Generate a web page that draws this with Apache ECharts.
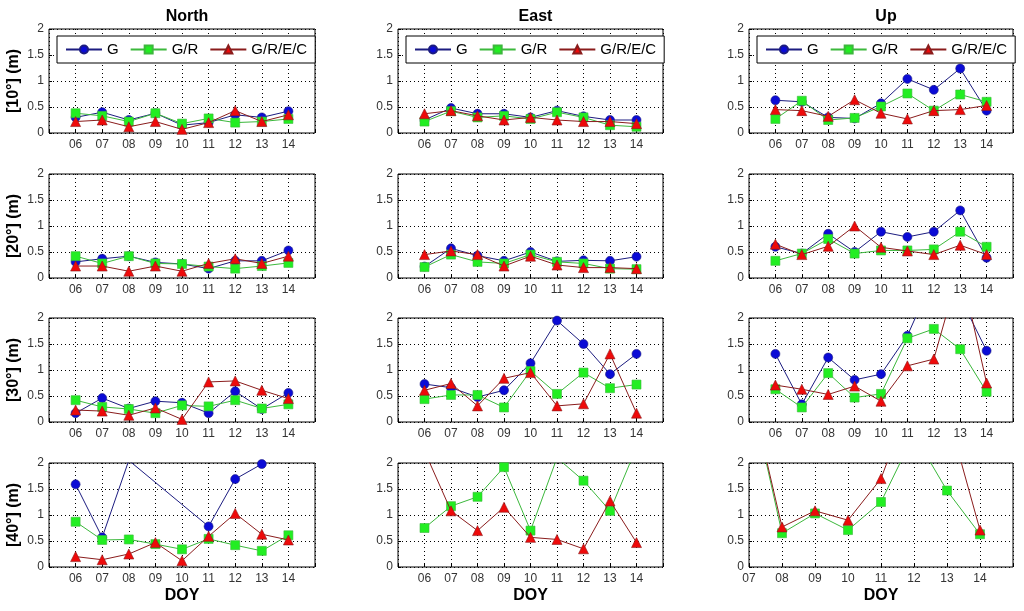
<!DOCTYPE html>
<html>
<head>
<meta charset="utf-8">
<script src="https://cdn.jsdelivr.net/npm/echarts@6/dist/echarts.min.js"></script>
<style>
html,body{margin:0;padding:0;background:#fff;}
#chart{width:1024px;height:611px;}
</style>
</head>
<body>
<div id="chart"></div>
<script>
// ---- data ----
const doy = [6, 7, 8, 9, 10, 11, 12, 13, 14];
const columnTitles = ['North', 'East', 'Up'];
const rowLabels = ['[10°] (m)', '[20°] (m)', '[30°] (m)', '[40°] (m)'];
const seriesNames = ['G', 'G/R', 'G/R/E/C'];
const yTicks = [0, 0.5, 1, 1.5, 2];

// 10°
const N10_G    = [0.30, 0.40, 0.25, 0.38, 0.15, 0.20, 0.35, 0.30, 0.42];
const N10_GR   = [0.38, 0.33, 0.22, 0.38, 0.18, 0.28, 0.20, 0.22, 0.27];
const N10_GREC = [0.22, 0.25, 0.12, 0.22, 0.07, 0.20, 0.43, 0.22, 0.35];
const E10_G    = [0.25, 0.48, 0.37, 0.37, 0.30, 0.43, 0.32, 0.25, 0.25];
const E10_GR   = [0.22, 0.42, 0.30, 0.33, 0.27, 0.40, 0.30, 0.15, 0.12];
const E10_GREC = [0.37, 0.43, 0.33, 0.25, 0.30, 0.25, 0.22, 0.22, 0.18];
const U10_G    = [0.63, 0.60, 0.30, 0.28, 0.57, 1.04, 0.83, 1.24, 0.43];
const U10_GR   = [0.27, 0.62, 0.25, 0.29, 0.51, 0.76, 0.43, 0.74, 0.60];
const U10_GREC = [0.45, 0.43, 0.32, 0.64, 0.38, 0.27, 0.43, 0.45, 0.53];
// 20°
const N20_G    = [0.31, 0.37, 0.42, 0.30, 0.27, 0.18, 0.33, 0.33, 0.53];
const N20_GR   = [0.42, 0.28, 0.42, 0.28, 0.27, 0.22, 0.18, 0.23, 0.29];
const N20_GREC = [0.23, 0.23, 0.13, 0.23, 0.13, 0.28, 0.37, 0.28, 0.42];
const E20_G    = [0.22, 0.57, 0.43, 0.33, 0.50, 0.32, 0.34, 0.33, 0.41];
const E20_GR   = [0.21, 0.45, 0.31, 0.28, 0.45, 0.31, 0.28, 0.18, 0.17];
const E20_GREC = [0.45, 0.52, 0.45, 0.23, 0.42, 0.25, 0.20, 0.20, 0.18];
const U20_G    = [0.60, 0.47, 0.85, 0.50, 0.89, 0.79, 0.89, 1.30, 0.39];
const U20_GR   = [0.33, 0.47, 0.75, 0.47, 0.53, 0.53, 0.55, 0.89, 0.60];
const U20_GREC = [0.65, 0.45, 0.61, 1.00, 0.59, 0.52, 0.45, 0.63, 0.45];
// 30°
const N30_G    = [0.17, 0.46, 0.26, 0.40, 0.37, 0.17, 0.59, 0.25, 0.56];
const N30_GR   = [0.42, 0.29, 0.25, 0.17, 0.32, 0.30, 0.42, 0.26, 0.34];
const N30_GREC = [0.23, 0.21, 0.13, 0.27, 0.05, 0.77, 0.79, 0.61, 0.45];
const E30_G    = [0.73, 0.66, 0.48, 0.61, 1.13, 1.95, 1.50, 0.92, 1.31];
const E30_GR   = [0.44, 0.52, 0.52, 0.28, 0.98, 0.54, 0.95, 0.65, 0.72];
const E30_GREC = [0.61, 0.74, 0.31, 0.84, 0.95, 0.31, 0.35, 1.31, 0.17];
const U30_G    = [1.31, 0.34, 1.24, 0.81, 0.92, 1.66, 2.80, 2.40, 1.37];
const U30_GR   = [0.63, 0.28, 0.94, 0.47, 0.54, 1.61, 1.79, 1.40, 0.58];
const U30_GREC = [0.71, 0.63, 0.53, 0.69, 0.40, 1.08, 1.21, 3.00, 0.75];
// 40°
const N40_G    = [1.59, 0.57, 2.05, null, null, 0.78, 1.69, 1.98, null];
const N40_GR   = [0.87, 0.52, 0.53, 0.44, 0.34, 0.54, 0.42, 0.31, 0.61];
const N40_GREC = [0.20, 0.14, 0.25, 0.47, 0.12, 0.59, 1.03, 0.63, 0.52];
const E40_G    = [null, null, null, null, null, null, null, null, null];
const E40_GR   = [0.75, 1.17, 1.35, 1.92, 0.70, 2.10, 1.66, 1.08, 2.30];
const E40_GREC = [2.23, 1.08, 0.70, 1.15, 0.57, 0.53, 0.35, 1.27, 0.47];
const U40_G    = [null, null, null, null, null, null, null, null, null];
const U40_GR   = [null, 3.50, 0.65, 1.03, 0.71, 1.25, 2.55, 1.47, 0.63];
const U40_GREC = [null, 3.50, 0.77, 1.08, 0.90, 1.70, 3.40, 3.00, 0.71];

const panels = [
  [[N10_G, N10_GR, N10_GREC], [E10_G, E10_GR, E10_GREC], [U10_G, U10_GR, U10_GREC]],
  [[N20_G, N20_GR, N20_GREC], [E20_G, E20_GR, E20_GREC], [U20_G, U20_GR, U20_GREC]],
  [[N30_G, N30_GR, N30_GREC], [E30_G, E30_GR, E30_GREC], [U30_G, U30_GR, U30_GREC]],
  [[N40_G, N40_GR, N40_GREC], [E40_G, E40_GR, E40_GREC], [U40_G, U40_GR, U40_GREC]]
];
// x-axis start per panel (bottom-right panel starts at 07)
const xMinLast = 7;

// ---- layout & styles ----
const FONT = 'Liberation Sans, Arial, sans-serif';
const colLeft = [49, 398, 749];
const colWidth = [266, 265, 264];
const rowTop = [29, 174, 318, 463];
const rowHeight = 104;

const styles = [
  { symbol: 'circle', size: 9, line: '#1c1c80', fill: '#0b0bd6' },
  { symbol: 'rect', size: 9, line: '#3cb83c', fill: '#22ee22' },
  { symbol: 'triangle', size: 10, line: '#8a1c1c', fill: '#ee0a0a' }
];

const grids = [], xAxes = [], yAxes = [], series = [];
const pad = v => (v < 10 ? '0' + v : '' + v);

for (let r = 0; r < 4; r++) {
  for (let c = 0; c < 3; c++) {
    const i = r * 3 + c;
    const xMin = (r === 3 && c === 2) ? xMinLast : 5;
    grids.push({
      left: colLeft[c], top: rowTop[r], width: colWidth[c], height: rowHeight,
      show: true, borderColor: '#000', borderWidth: 1, backgroundColor: '#fff'
    });
    xAxes.push({
      gridIndex: i, type: 'value', min: xMin, max: 15, interval: 1,
      axisLine: { show: false },
      axisTick: { show: true, inside: true, length: 3, lineStyle: { color: '#000' } },
      axisLabel: {
        formatter: v => (v < 6 || v > 14) ? '' : pad(v),
        fontSize: 12, color: '#333', margin: 6, fontFamily: FONT
      },
      splitLine: { show: true, lineStyle: { type: [1, 3], color: '#000', width: 1 } },
      name: r === 3 ? 'DOY' : '',
      nameLocation: 'middle', nameGap: 21,
      nameTextStyle: { fontWeight: 'bold', fontSize: 16, color: '#000', fontFamily: FONT }
    });
    yAxes.push({
      gridIndex: i, type: 'value', min: 0, max: 2, interval: 0.5,
      axisLine: { show: false },
      axisTick: { show: true, inside: true, length: 3, lineStyle: { color: '#000' } },
      axisLabel: { fontSize: 12, color: '#333', margin: 5, fontFamily: FONT },
      splitLine: { show: true, lineStyle: { type: [1, 3], color: '#000', width: 1 } },
      name: c === 0 ? rowLabels[r] : '',
      nameLocation: 'middle', nameRotate: 90, nameGap: 27,
      nameTextStyle: { fontWeight: 'bold', fontSize: 16, color: '#000', fontFamily: FONT }
    });
    panels[r][c].forEach((arr, k) => {
      const st = styles[k];
      series.push({
        type: 'line', name: seriesNames[k],
        xAxisIndex: i, yAxisIndex: i,
        data: doy.map((d, j) => [d, arr[j] == null ? null : arr[j]]),
        symbol: st.symbol, symbolSize: st.size, showAllSymbol: true,
        connectNulls: true, clip: true,
        lineStyle: { color: st.line, width: 1 },
        itemStyle: { color: st.fill, borderColor: st.line, borderWidth: 0.6 },
        emphasis: { disabled: true },
        z: 2 + k
      });
    });
  }
}

const titles = columnTitles.map((t, c) => ({
  text: t, left: colLeft[c] + colWidth[c] / 2, top: 4, textAlign: 'center',
  textStyle: { fontWeight: 'bold', fontSize: 16, color: '#000', fontFamily: FONT }
}));

const legends = [0, 1, 2].map(c => ({
  data: seriesNames,
  left: colLeft[c] + 8, top: 36,
  orient: 'horizontal',
  itemWidth: 36, itemHeight: 10, itemGap: 11,
  padding: [6, 8],
  borderColor: '#000', borderWidth: 1, backgroundColor: '#fff',
  textStyle: { fontSize: 15, color: '#000', fontFamily: FONT },
  selectedMode: false
}));

const chart = echarts.init(document.getElementById('chart'), null, { renderer: 'canvas' });
chart.setOption({
  animation: false,
  backgroundColor: '#fff',
  title: titles,
  legend: legends,
  grid: grids,
  xAxis: xAxes,
  yAxis: yAxes,
  series: series
});
</script>
</body>
</html>
